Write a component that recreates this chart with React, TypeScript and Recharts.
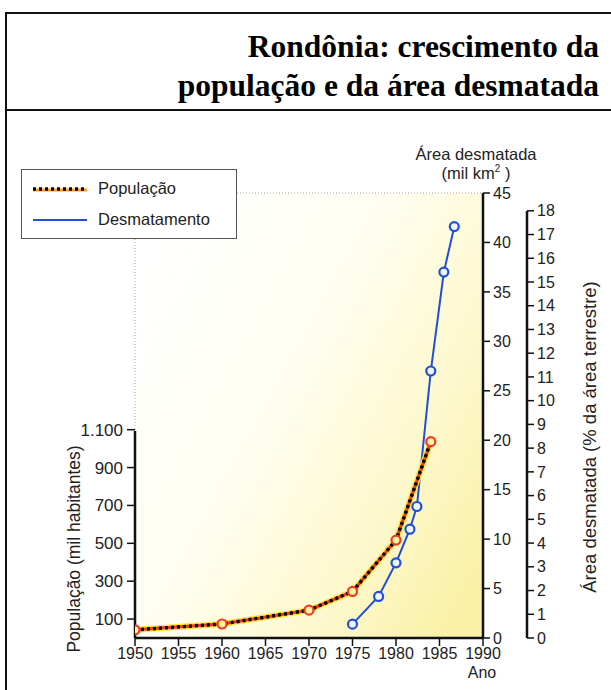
import { LineChart, Line, XAxis, YAxis, ReferenceArea } from "recharts";

// População de Rondônia (mil habitantes)
const POP_YEARS = [1950, 1960, 1970, 1975, 1980, 1984];
const POPULATION = [43, 74, 147, 246, 517, 1037];

// Área desmatada (mil km²)
const DEF_YEARS = [1975, 1978, 1980, 1981.6, 1982.4, 1984, 1985.5, 1986.7];
const DEFORESTED = [1.4, 4.2, 7.6, 11.0, 13.3, 27.0, 37.0, 41.6];

const YEAR_TICKS = [1950, 1955, 1960, 1965, 1970, 1975, 1980, 1985, 1990];
const POP_TICKS = [100, 300, 500, 700, 900, 1100];
const AREA_TICKS = [0, 5, 10, 15, 20, 25, 30, 35, 40, 45];
const PCT_TICKS = [0, 1, 2, 3, 4, 5, 6, 7, 8, 9, 10, 11, 12, 13, 14, 15, 16, 17, 18];

const popData = POP_YEARS.map((year, i) => ({ year, pop: POPULATION[i] }));
const defData = DEF_YEARS.map((year, i) => ({ year, area: DEFORESTED[i] }));

const SANS = "'Liberation Sans', Arial, Helvetica, sans-serif";
const TICK = { fontSize: 16, fill: "#222", fontFamily: SANS };
const AXIS_LINE = { stroke: "#111", strokeWidth: 2.5 };
const TICK_LINE = { stroke: "#111", strokeWidth: 1.5 };
const RED = "#ee3a22";
const BLUE = "#1f4fd4";

const formatPop = (v: number) => (v >= 1000 ? `${Math.floor(v / 1000)}.${String(v % 1000).padStart(3, "0")}` : String(v));

export default function App() {
  return (
    <div style={{ position: "absolute", left: 0, top: 0, width: 611, height: 690, background: "#fff", overflow: "hidden", fontFamily: SANS }}>
      <svg width={0} height={0} style={{ position: "absolute" }}>
        <defs>
          <linearGradient id="plotBg" x1="0" y1="0.15" x2="1" y2="0.85">
            <stop offset="0%" stopColor="#ffffff" />
            <stop offset="40%" stopColor="#fffef2" />
            <stop offset="75%" stopColor="#fdf8cc" />
            <stop offset="100%" stopColor="#faf0a6" />
          </linearGradient>
        </defs>
      </svg>

      {/* moldura e título */}
      <div style={{ position: "absolute", left: 5, top: 12, width: 620, height: 700, borderLeft: "2px solid #111", borderTop: "2px solid #111" }} />
      <div style={{ position: "absolute", left: 5, top: 109, width: 620, height: 0, borderTop: "2px solid #111" }} />
      <div
        style={{
          position: "absolute",
          right: 12,
          top: 27,
          textAlign: "right",
          fontFamily: "'Liberation Serif', 'Times New Roman', serif",
          fontWeight: "bold",
          fontSize: 31.5,
          lineHeight: "39px",
          color: "#000",
          whiteSpace: "nowrap",
        }}
      >
        Rondônia: crescimento da
        <br />
        população e da área desmatada
      </div>

      <LineChart
        width={611}
        height={690}
        margin={{ top: 193, right: 44, bottom: 22, left: 75 }}
        style={{ position: "absolute", left: 0, top: 0 }}
      >
        <XAxis
          dataKey="year"
          type="number"
          domain={[1950, 1990]}
          ticks={YEAR_TICKS}
          allowDataOverflow
          height={30}
          tick={TICK}
          tickSize={8}
          tickMargin={2}
          axisLine={AXIS_LINE}
          tickLine={TICK_LINE}
        />
        <YAxis
          yAxisId="pop"
          type="number"
          domain={[0, 2350]}
          ticks={POP_TICKS}
          allowDataOverflow
          width={60}
          tick={{ ...TICK, fontSize: 17 }}
          tickFormatter={formatPop}
          tickSize={8}
          tickMargin={4}
          axisLine={{ ...AXIS_LINE, strokeDasharray: "0 238 300" }}
          tickLine={TICK_LINE}
        />
        <YAxis
          yAxisId="area"
          orientation="right"
          type="number"
          domain={[0, 45]}
          ticks={AREA_TICKS}
          allowDataOverflow
          width={44}
          tick={TICK}
          tickSize={7}
          tickMargin={3}
          axisLine={AXIS_LINE}
          tickLine={TICK_LINE}
        />
        <YAxis
          yAxisId="pct"
          orientation="right"
          type="number"
          domain={[0, 18.75]}
          ticks={PCT_TICKS}
          allowDataOverflow
          width={40}
          tick={TICK}
          tickSize={7}
          tickMargin={3}
          axisLine={{ ...AXIS_LINE, strokeDasharray: "0 18 500" }}
          tickLine={TICK_LINE}
        />
        <ReferenceArea
          yAxisId="area"
          x1={1950}
          x2={1990}
          y1={0}
          y2={45}
          fill="url(#plotBg)"
          fillOpacity={1}
          stroke="#aaa"
          strokeDasharray="1 2"
        />
        <Line
          yAxisId="area"
          data={defData}
          dataKey="area"
          type="linear"
          stroke={BLUE}
          strokeWidth={2}
          dot={{ r: 4.5, stroke: BLUE, strokeWidth: 2.2, fill: "#eef3ff" }}
          isAnimationActive={false}
        />
        <Line
          yAxisId="pop"
          data={popData}
          dataKey="pop"
          type="linear"
          stroke="#ffe23a"
          strokeWidth={6}
          dot={false}
          isAnimationActive={false}
        />
        <Line
          yAxisId="pop"
          data={popData}
          dataKey="pop"
          type="linear"
          stroke={RED}
          strokeWidth={3}
          dot={false}
          isAnimationActive={false}
        />
        <Line
          yAxisId="pop"
          data={popData}
          dataKey="pop"
          type="linear"
          stroke="#000"
          strokeWidth={3.5}
          strokeDasharray="3 3"
          dot={{ r: 4.5, stroke: RED, strokeWidth: 2.2, fill: "#fff2a0", strokeDasharray: "0" }}
          isAnimationActive={false}
        />
      </LineChart>

      {/* legenda */}
      <div
        style={{
          position: "absolute",
          left: 21,
          top: 169,
          width: 214,
          height: 68,
          border: "1px solid #555",
          background: "#fff",
          fontSize: 16.5,
          color: "#222",
        }}
      >
        <div style={{ position: "absolute", left: 11, top: 9, display: "flex", alignItems: "center" }}>
          <svg width={54} height={8}>
            <line x1={0} y1={5} x2={54} y2={5} stroke="#ff9a20" strokeWidth={3} />
            <line x1={0} y1={4} x2={54} y2={4} stroke="#000" strokeWidth={3.5} strokeDasharray="3 3" />
          </svg>
          <span style={{ marginLeft: 11 }}>População</span>
        </div>
        <div style={{ position: "absolute", left: 11, top: 40, display: "flex", alignItems: "center" }}>
          <svg width={54} height={8}>
            <line x1={0} y1={4} x2={54} y2={4} stroke={BLUE} strokeWidth={2} />
          </svg>
          <span style={{ marginLeft: 11 }}>Desmatamento</span>
        </div>
      </div>

      {/* títulos dos eixos */}
      <div style={{ position: "absolute", left: 376, top: 145, width: 200, textAlign: "center", fontSize: 16.5, lineHeight: "19px", color: "#222" }}>
        Área desmatada
        <br />
        (mil km<span style={{ fontSize: 10, position: "relative", top: -7 }}>2</span> )
      </div>
      <div style={{ position: "absolute", left: 442, top: 664, width: 80, textAlign: "center", fontSize: 16, color: "#222" }}>Ano</div>
      <div
        style={{
          position: "absolute",
          left: 74,
          top: 549,
          transform: "translate(-50%, -50%) rotate(-90deg)",
          whiteSpace: "nowrap",
          fontSize: 17.5,
          color: "#222",
        }}
      >
        População (mil habitantes)
      </div>
      <div
        style={{
          position: "absolute",
          left: 590,
          top: 437,
          transform: "translate(-50%, -50%) rotate(-90deg)",
          whiteSpace: "nowrap",
          fontSize: 18.5,
          color: "#222",
        }}
      >
        Área desmatada (% da área terrestre)
      </div>
    </div>
  );
}
